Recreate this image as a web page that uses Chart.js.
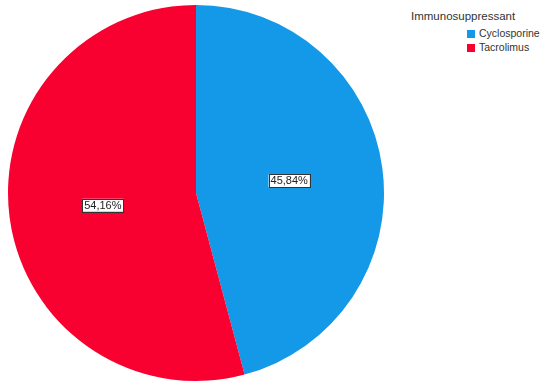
<!DOCTYPE html>
<html>
<head>
<meta charset="utf-8">
<script src="https://cdn.jsdelivr.net/npm/chart.js@4"></script>
<style>
  body { margin: 0; background: #fff; font-family: 'Liberation Sans', Arial, sans-serif; }
  #wrap { position: relative; width: 550px; height: 385px; }
  #pieBox { position: absolute; left: 0; top: 0; width: 392px; height: 385px; }
  #legend { position: absolute; left: 411px; top: 10px; color: #333; }
  #legend .title { font-size: 11.5px; margin-bottom: 4px; }
  #legend .item { font-size: 10.5px; margin-left: 56px; line-height: 14px; }
  #legend .sw { display: inline-block; width: 8px; height: 8px; margin-right: 4px; vertical-align: -1px; }
</style>
</head>
<body>
<div id="wrap">
  <div id="pieBox"><canvas id="pieChart"></canvas></div>
  <div id="legend"></div>
</div>
<script>
const legendTitle = 'Immunosuppressant';
const categories = ['Cyclosporine', 'Tacrolimus'];
const percents = [45.84, 54.16];
const colors = ['#1498E8', '#F8002F'];

// легенда справа
const legend = document.getElementById('legend');
legend.innerHTML = '<div class="title">' + legendTitle + '</div>' +
    categories.map((c, i) =>
        '<div class="item"><span class="sw" style="background:' + colors[i] + '"></span>' + c + '</div>'
    ).join('');

// подписи процентов в белой рамке
const boxLabels = {
    id: 'boxLabels',
    afterDatasetsDraw(chart) {
        const ctx = chart.ctx;
        const meta = chart.getDatasetMeta(0);
        ctx.save();
        ctx.font = '11px "Liberation Sans", Arial, sans-serif';
        ctx.textAlign = 'center';
        ctx.textBaseline = 'middle';
        meta.data.forEach((arc, i) => {
            const p = arc.tooltipPosition();
            const txt = percents[i].toFixed(2).replace('.', ',') + '%';
            const w = ctx.measureText(txt).width + 4;
            const h = 13;
            ctx.fillStyle = '#fff';
            ctx.fillRect(p.x - w / 2, p.y - h / 2, w, h);
            ctx.strokeStyle = '#333';
            ctx.lineWidth = 1;
            ctx.strokeRect(Math.round(p.x - w / 2) + 0.5, Math.round(p.y - h / 2) + 0.5, Math.round(w), h);
            ctx.fillStyle = '#222';
            ctx.fillText(txt, p.x, p.y + 0.5);
        });
        ctx.restore();
    }
};

new Chart(document.getElementById('pieChart'), {
    type: 'pie',
    data: {
        labels: categories,
        datasets: [{
            data: percents,
            backgroundColor: colors,
            borderWidth: 0
        }]
    },
    options: {
        responsive: true,
        maintainAspectRatio: false,
        animation: false,
        layout: { padding: { top: 5, bottom: 4, left: 8, right: 8 } },
        plugins: {
            legend: { display: false },
            tooltip: { enabled: false }
        }
    },
    plugins: [boxLabels]
});
</script>
</body>
</html>
